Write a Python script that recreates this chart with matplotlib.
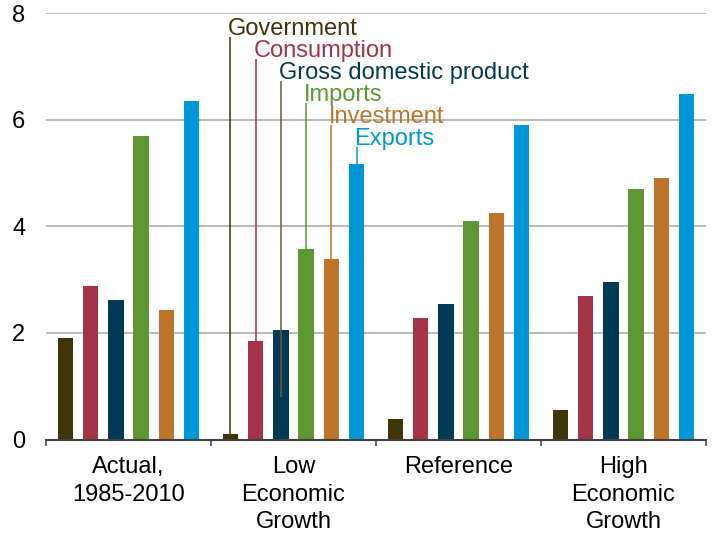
import numpy as np
import matplotlib
matplotlib.use('Agg')
import matplotlib.pyplot as plt

plt.rcParams['font.family'] = ['Liberation Sans', 'DejaVu Sans']

# Data
groups = ['Actual,\n1985-2010', 'Low\nEconomic\nGrowth', 'Reference', 'High\nEconomic\nGrowth']
series = ['Government', 'Consumption', 'Gross domestic product', 'Imports', 'Investment', 'Exports']
government = [1.90, 0.10, 0.39, 0.55]
consumption = [2.88, 1.85, 2.28, 2.69]
gdp = [2.61, 2.05, 2.55, 2.95]
imports = [5.70, 3.58, 4.11, 4.70]
investment = [2.44, 3.39, 4.26, 4.91]
exports = [6.36, 5.18, 5.90, 6.49]

colors = ['#40340a', '#a33346', '#003a54', '#5e9732', '#be742a', '#0097d8']
line_colors = ['#40340a', '#a33346', '#6b5c30', '#5e9732', '#be742a', '#0097d8']

# label baselines and leader-line bottoms for the Low group callouts
label_y = [7.59, 7.18, 6.77, 6.35, 5.94, 5.53]
line_bottom = [0.10, 1.85, 0.80, 3.58, 3.39, 5.18]

values = [government, consumption, gdp, imports, investment, exports]

fig = plt.figure(figsize=(7.14, 5.33), dpi=100)
ax = fig.add_axes([0.0644, 0.1754, 0.9244, 0.7996])

x = np.arange(len(groups))
step = 0.153
width = 0.094

for i, (vals, c) in enumerate(zip(values, colors)):
    ax.bar(x + (i - 2.5) * step, vals, width=width, color=c, zorder=3)

# callout labels over the Low Economic Growth group
for i, name in enumerate(series):
    xc = 1 + (i - 2.5) * step
    ax.plot([xc, xc], [line_bottom[i], label_y[i] - 0.04], color=line_colors[i],
            lw=1.1, zorder=4, solid_capstyle='butt')
    ax.text(xc - 0.014, label_y[i], name, color=colors[i], fontsize=17,
            ha='left', va='baseline', zorder=5)

ax.set_xlim(-0.5, 3.5)
ax.set_ylim(0, 8)
ax.set_yticks([0, 2, 4, 6, 8])
for yv in [2, 4, 6, 8]:
    ax.axhline(yv, color='#a6a6a6', lw=1.1, zorder=1)

ax.set_xticks(x)
ax.set_xticklabels(groups, fontsize=17, linespacing=1.32)
ax.set_xticks(np.arange(-0.5, 4, 1), minor=True)
ax.tick_params(axis='x', which='major', length=0, pad=12)
ax.tick_params(axis='x', which='minor', length=4.5, width=1.1, color='#404040', direction='out')
ax.tick_params(axis='y', length=0, labelsize=17, pad=15)

for s in ['top', 'right', 'left']:
    ax.spines[s].set_visible(False)
ax.spines['bottom'].set_color('#404040')
ax.spines['bottom'].set_linewidth(1.5)
ax.spines['bottom'].set_zorder(6)

fig.savefig('out.png', dpi=100)
